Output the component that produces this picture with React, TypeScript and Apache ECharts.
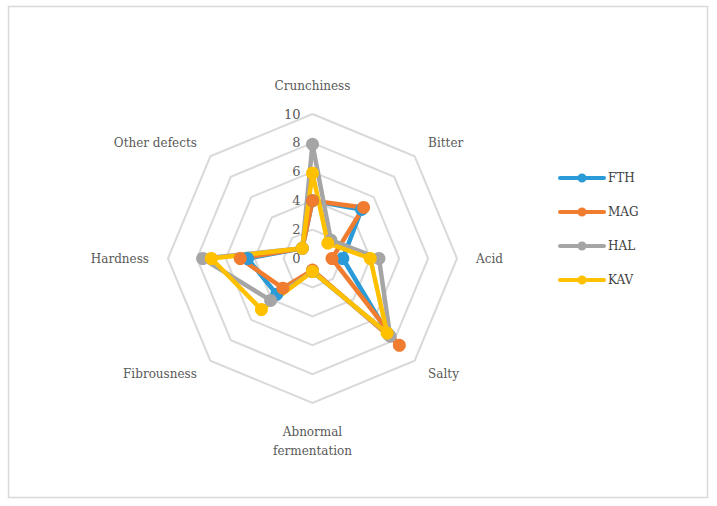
import React, { useEffect, useRef } from "react";
import * as echarts from "echarts";

// Axis order as drawn clockwise from the top in the reference
const categories = [
  "Crunchiness",
  "Bitter",
  "Acid",
  "Salty",
  "Abnormal\nfermentation",
  "Fibrousness",
  "Hardness",
  "Other defects",
];
const seriesNames = ["FTH", "MAG", "HAL", "KAV"];
const FTH = [4.0, 4.8, 2.1, 7.4, 0.9, 3.5, 4.5, 1.0];
const MAG = [4.0, 5.0, 1.35, 8.5, 0.8, 2.9, 5.0, 1.0];
const HAL = [7.9, 1.8, 4.6, 7.6, 0.9, 4.1, 7.6, 1.0];
const KAV = [5.9, 1.5, 4.0, 7.3, 0.9, 5.0, 7.0, 1.0];
const axisMin = 0;
const axisMax = 10;
const tickCount = 5; // 0,2,4,6,8,10

const colors = ["#2B9AD8", "#F07C2F", "#A5A5A5", "#FFC000"];

export default function App() {
  const ref = useRef<HTMLDivElement>(null);
  useEffect(() => {
    if (!ref.current) return;
    const chart = echarts.init(ref.current, undefined, { renderer: "svg" });
    // ECharts radar places indicators counter-clockwise; reverse all but the first to get clockwise order
    const order = [0, ...Array.from({ length: categories.length - 1 }, (_, i) => categories.length - 1 - i)];
    const reorder = (arr: any[]) => order.map((i) => arr[i]);
    const allData = [FTH, MAG, HAL, KAV];
    const font = "'DejaVu Serif', serif";
    chart.setOption({
      animation: false,
      backgroundColor: "#ffffff",
      color: colors,
      legend: {
        orient: "vertical",
        left: 553,
        top: 167,
        itemWidth: 48,
        itemHeight: 10,
        itemGap: 22,
        icon: "path://M2,3 L46,3 A2,2 0 0 1 46,7 L2,7 A2,2 0 0 1 2,3 Z M24,0.5 A4.5,4.5 0 1 1 24,9.5 A4.5,4.5 0 1 1 24,0.5 Z",
        data: seriesNames,
        textStyle: { fontFamily: font, fontSize: 12, color: "#404040", padding: [0, 0, 0, -3] },
      },
      radar: {
        center: [312.5, 258.5],
        radius: 144.5,
        startAngle: 90,
        shape: "polygon",
        splitNumber: tickCount,
        nameGap: 19,
        axisName: { fontFamily: font, fontSize: 12, color: "#595959", lineHeight: 19 },
        axisLine: { show: false },
        axisTick: { show: false },
        axisLabel: { show: false },
        splitArea: { show: false },
        splitLine: { lineStyle: { color: "#D9D9D9", width: 2 } },
        indicator: reorder(categories).map((name, k) => ({
          name,
          min: axisMin,
          max: axisMax,
          ...(k === 0
            ? {
                axisLabel: {
                  show: true,
                  showMinLabel: true,
                  margin: 12,
                  fontFamily: font,
                  fontSize: 13,
                  color: "#595959",
                },
              }
            : {}),
        })),
      },
      series: [
        {
          type: "radar",
          symbol: "circle",
          symbolSize: 13,
          lineStyle: { width: 4.5 },
          data: allData.map((vals, i) => ({
            name: seriesNames[i],
            value: reorder(vals),
            itemStyle: { color: colors[i] },
            lineStyle: { color: colors[i], width: 4.5, join: "round" },
          })),
        },
      ],
      graphic: [
        {
          type: "rect",
          shape: { x: 8.5, y: 6.5, width: 699, height: 491 },
          style: { fill: "none", stroke: "#D9D9D9", lineWidth: 1.5 },
          silent: true,
        },
      ],
    });
    return () => chart.dispose();
  }, []);
  return (
    <div
      ref={ref}
      style={{ position: "absolute", left: 0, top: 0, width: 717, height: 506 }}
    />
  );
}
